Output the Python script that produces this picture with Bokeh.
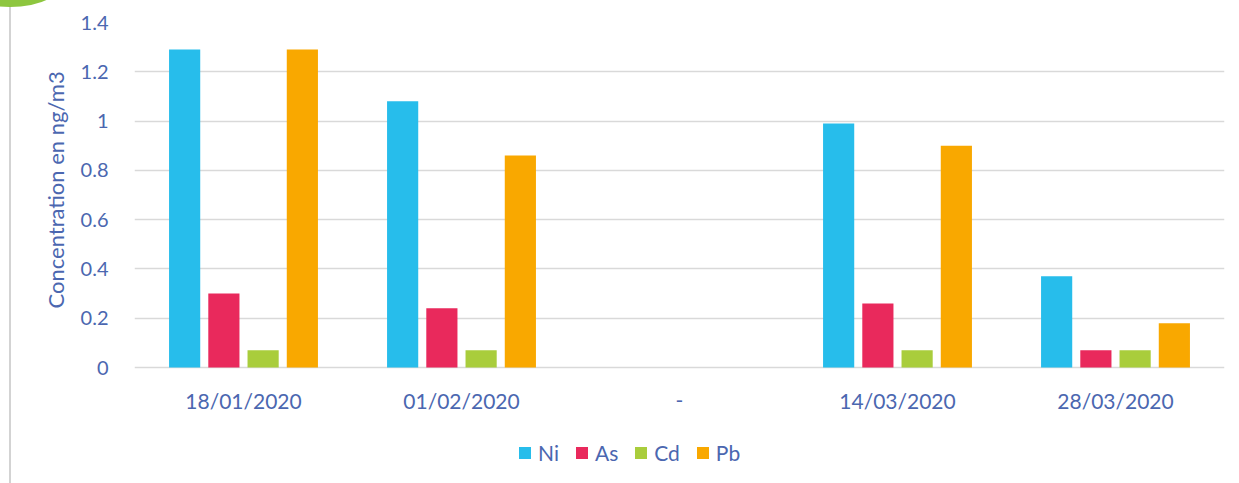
from bokeh.plotting import figure
from bokeh.models import FactorRange, ColumnDataSource, Legend, LegendItem, FixedTicker, Div, Title
from bokeh.core.properties import value
from bokeh.layouts import column
from bokeh.transform import dodge
from bokeh.embed import file_html
from bokeh.resources import INLINE

nan = float("nan")
categories = ["18/01/2020", "01/02/2020", "-", "14/03/2020", "28/03/2020"]
ni = [1.29, 1.08, nan, 0.99, 0.37]
as_ = [0.30, 0.24, nan, 0.26, 0.07]
cd = [0.07, 0.07, nan, 0.07, 0.07]
pb = [1.29, 0.86, nan, 0.90, 0.18]
series_names = ["Ni", "As", "Cd", "Pb"]
colors = ["#27BDEB", "#E9295C", "#A9CD3C", "#F9A800"]
y_ticks = [0, 0.2, 0.4, 0.6, 0.8, 1.0, 1.2, 1.4]

TEXT = "#4B67B0"
FONT = "Lato"

src = ColumnDataSource(dict(cat=categories, Ni=ni, As=as_, Cd=cd, Pb=pb))

W, H = 1235, 475
TOP, ZERO, BOTTOM = 22, 367, 470          # page pixel rows of 1.4, 0 and frame bottom
ppu = (ZERO - TOP) / 1.4
y_start = -(BOTTOM - ZERO) / ppu

p = figure(x_range=FactorRange(factors=categories, range_padding=0), y_range=(y_start, 1.4),
           width=W, height=H, output_backend="svg", toolbar_location=None,
           min_border_left=134, min_border_right=W - 1224, min_border_top=TOP,
           min_border_bottom=H - BOTTOM)
p.outline_line_color = None

offsets = [-0.27, -0.09, 0.09, 0.27]
renderers = []
for name, col, off in zip(series_names, colors, offsets):
    r = p.vbar(x=dodge("cat", off, range=p.x_range), top=name, bottom=0, width=0.143,
               source=src, color=col, line_color=None)
    renderers.append(r)

# category labels below the zero line
p.text(x="cat", y=-33 / ppu, text="cat", source=src, text_align="center", text_baseline="middle",
       text_font=value(FONT), text_font_size="21px", text_color=TEXT)

p.xaxis.visible = False
p.xgrid.grid_line_color = None
p.ygrid.grid_line_color = "#D9D9D9"
p.ygrid.grid_line_width = 1.5
p.yaxis.ticker = FixedTicker(ticks=y_ticks)
p.yaxis.major_label_overrides = {0: "0", 1.0: "1", 0.2: "0.2", 0.4: "0.4", 0.6: "0.6",
                                 0.8: "0.8", 1.2: "1.2", 1.4: "1.4"}
p.yaxis.axis_line_color = None
p.yaxis.major_tick_line_color = None
p.yaxis.minor_tick_line_color = None
p.yaxis.major_label_text_color = TEXT
p.yaxis.major_label_text_font = FONT
p.yaxis.major_label_text_font_size = "20px"
p.yaxis.major_label_standoff = 20

ylab = Title(text="Concentration en ng/m3", align="left", offset=BOTTOM - 308,
             text_font=FONT, text_font_size="22px", text_color=TEXT, text_font_style="normal",
             standoff=18)
p.add_layout(ylab, "left")

legend = Legend(items=[LegendItem(label=n, renderers=[r]) for n, r in zip(series_names, renderers)],
                orientation="horizontal", location=(383, 5),
                label_text_font=FONT, label_text_font_size="21px", label_text_color=TEXT,
                glyph_width=15, glyph_height=15, label_standoff=6, spacing=15,
                padding=0, margin=0, border_line_color=None, background_fill_alpha=0)
p.add_layout(legend, "center")

deco = Div(text='<div style="position:fixed;left:9px;top:0;width:2px;height:483px;background:#D3D3D3"></div>'
                '<div style="position:fixed;left:-45px;top:-48px;width:110px;height:55px;'
                'border-radius:50%;background:#8DC63F"></div>', width=1, height=1)

open("out.html", "w").write(file_html(column(p, deco), INLINE))
